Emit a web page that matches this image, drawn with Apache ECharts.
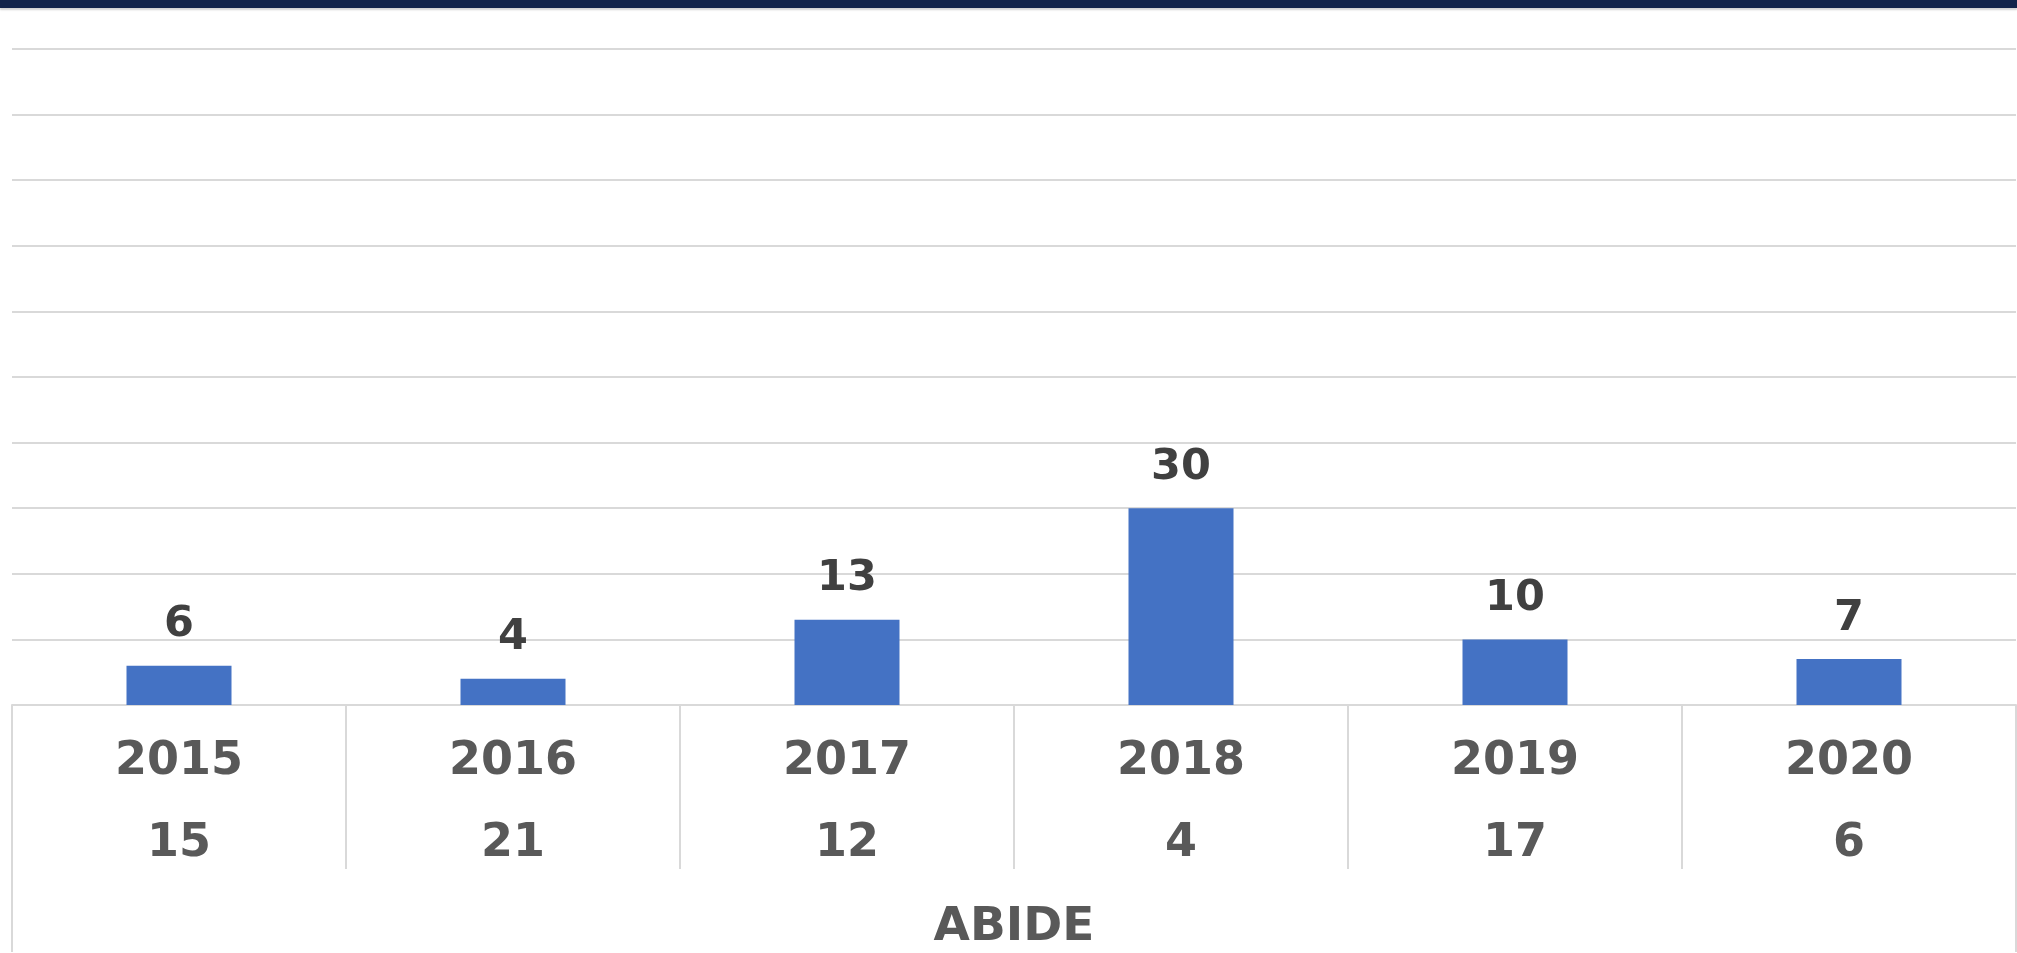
<!DOCTYPE html>
<html>
<head>
<meta charset="utf-8">
<title>ABIDE</title>
<script src="https://cdn.jsdelivr.net/npm/echarts@6/dist/echarts.min.js"></script>
<style>
  html, body { margin: 0; padding: 0; background: #fff; }
  #topbar {
    position: absolute; left: 0; top: 0; width: 100%; height: 8px;
    background: #13244b; box-shadow: 0 2px 2px rgba(0, 0, 0, 0.18); z-index: 2;
  }
  #chart { width: 2017px; height: 953px; }
</style>
</head>
<body>
<div id="topbar"></div>
<div id="chart"></div>
<script>
var years = ['2015', '2016', '2017', '2018', '2019', '2020'];
var values = [6, 4, 13, 30, 10, 7];
var counts = [15, 21, 12, 4, 17, 6];
var groupName = ['ABIDE'];
var yMax = 100;
var yStep = 10;

(function() {
  var chartEl = document.getElementById('chart');
  var font = '"DejaVu Sans", "Liberation Sans", Arial, sans-serif';
  var rule = '#d9d9d9';
  var label = '#595959';

  var chart = echarts.init(chartEl, null, { renderer: 'canvas' });
  chart.setOption({
    animation: false,
    backgroundColor: '#fff',
    grid: { left: 12, right: 1, top: 49, bottom: 247, containLabel: false },
    xAxis: [
      {
        type: 'category',
        data: years,
        position: 'bottom',
        axisLine: { show: true, lineStyle: { color: rule, width: 2 } },
        axisTick: { show: true, alignWithLabel: false, interval: 0, length: 164, lineStyle: { color: rule, width: 2 } },
        axisLabel: {
          interval: 0,
          margin: 16,
          formatter: function(v, i) {
            return '{y|' + v + '}\n{y|' + counts[i] + '}';
          },
          rich: {
            y: { fontFamily: font, fontWeight: 'bold', fontSize: 46, lineHeight: 82, color: label }
          }
        }
      },
      {
        type: 'category',
        data: groupName,
        position: 'bottom',
        axisLine: { show: false },
        axisTick: { show: true, alignWithLabel: false, length: 247, lineStyle: { color: rule, width: 2 } },
        axisLabel: {
          margin: 198,
          fontFamily: font,
          fontWeight: 'bold',
          fontSize: 47,
          lineHeight: 50,
          color: label
        }
      }
    ],
    yAxis: {
      type: 'value',
      min: 0,
      max: yMax,
      interval: yStep,
      axisLine: { show: false },
      axisTick: { show: false },
      axisLabel: { show: false },
      splitLine: { lineStyle: { color: rule, width: 2 } }
    },
    series: [
      {
        type: 'bar',
        xAxisIndex: 0,
        data: values,
        barWidth: 105,
        itemStyle: { color: '#4472c4' },
        label: {
          show: true,
          position: 'top',
          distance: 19,
          fontFamily: font,
          fontWeight: 'bold',
          fontSize: 43,
          color: '#404040'
        }
      }
    ]
  });

  window.addEventListener('resize', function() {
    chart.resize();
  });
})();
</script>
</body>
</html>
